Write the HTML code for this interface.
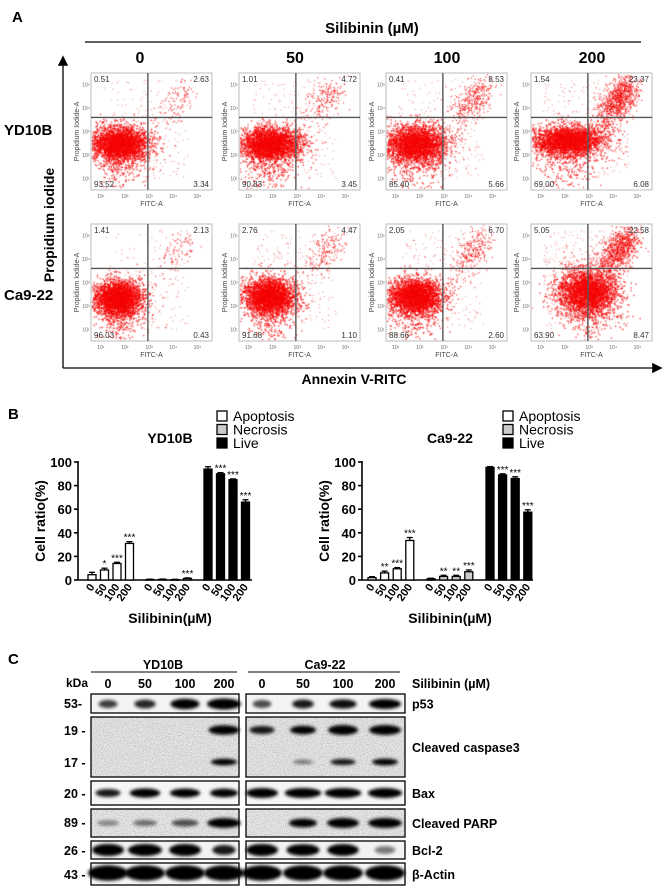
<!DOCTYPE html>
<html><head><meta charset="utf-8">
<style>
html,body{margin:0;padding:0;background:#fff;}
#root{position:relative;width:667px;height:892px;overflow:hidden;font-family:"Liberation Sans",sans-serif;}
canvas,svg{position:absolute;left:0;top:0;}
</style></head>
<body>
<div id="root">
<canvas id="dots" width="667" height="892"></canvas>
<svg id="fig" width="667" height="892" viewBox="0 0 667 892">
<defs>
<filter id="blur" x="-30%" y="-80%" width="160%" height="260%"><feGaussianBlur stdDeviation="1.5"/></filter>
<filter id="noise" x="0" y="0" width="100%" height="100%">
<feTurbulence type="fractalNoise" baseFrequency="0.9" numOctaves="1" seed="3" result="n"/>
<feColorMatrix type="matrix" values="0 0 0 0 0  0 0 0 0 0  0 0 0 0 0  0 0 0 -2.2 1.25"/>
</filter>
<marker id="arr" markerWidth="8" markerHeight="8" refX="6" refY="4" orient="auto"><path d="M0,0 L8,4 L0,8 z" fill="#000"/></marker>
</defs>
<g id="panelA">
<text x="12" y="22" font-size="15" font-weight="bold">A</text>
<text x="372" y="33" font-size="15" font-weight="bold" text-anchor="middle">Silibinin (µM)</text>
<line x1="85" y1="42" x2="641" y2="42" stroke="#000" stroke-width="1.2"/>
<text x="140" y="63" font-size="16" font-weight="bold" text-anchor="middle">0</text>
<text x="295" y="63" font-size="16" font-weight="bold" text-anchor="middle">50</text>
<text x="447" y="63" font-size="16" font-weight="bold" text-anchor="middle">100</text>
<text x="592" y="63" font-size="16" font-weight="bold" text-anchor="middle">200</text>
<text x="4" y="135" font-size="15" font-weight="bold">YD10B</text>
<text x="4" y="300" font-size="15" font-weight="bold">Ca9-22</text>
<line x1="63" y1="368" x2="63" y2="58" stroke="#000" stroke-width="1.3" marker-end="url(#arr)"/>
<line x1="63" y1="368" x2="660" y2="368" stroke="#000" stroke-width="1.3" marker-end="url(#arr)"/>
<text transform="translate(54,225) rotate(-90)" font-size="14" font-weight="bold" text-anchor="middle">Propidium iodide</text>
<text x="354" y="384" font-size="14" font-weight="bold" text-anchor="middle">Annexin V-RITC</text>
<g id="flowFrames"></g>
</g>
<g id="panelB">
<text x="8" y="419" font-size="15" font-weight="bold">B</text>
</g>
<g id="panelC">
<text x="8" y="664" font-size="15" font-weight="bold">C</text>
</g>
</svg>
</div>
<script>
// ---------- Panel A flow data ----------
const flowRows = ["YD10B","Ca9-22"];
const flowDoses = ["0","50","100","200"];
const quadYD10B = [[0.51,2.63,93.52,3.34],[1.01,4.72,90.83,3.45],[0.41,8.53,85.40,5.66],[1.54,23.37,69.00,6.08]];
const quadCa922 = [[1.41,2.13,96.03,0.43],[2.76,4.47,91.68,1.10],[2.05,6.70,88.66,2.60],[5.05,22.58,63.90,8.47]];

// ---------- Panel B bar data ----------
const barDoses = ["0","50","100","200"];
const ydApoptosis = [4.5, 8.5, 14, 31];
const ydApoptosisErr = [2, 1.5, 1, 1.5];
const ydNecrosis = [0.4, 0.5, 0.3, 1.3];
const ydNecrosisErr = [0.3, 0.3, 0.3, 0.5];
const ydLive = [94, 90, 85, 66];
const ydLiveErr = [2, 1, 0.7, 2];
const ydStars = [["","*","***","***"],["","","","***"],["","***","***","***"]];
const caApoptosis = [2, 6, 9.5, 33.5];
const caApoptosisErr = [0.8, 1.5, 1, 2.5];
const caNecrosis = [1, 3, 3, 7];
const caNecrosisErr = [0.5, 1, 1, 1.5];
const caLive = [95.5, 89, 86, 57.5];
const caLiveErr = [0.6, 1, 1.5, 2];
const caStars = [["","**","***","***"],["","**","**","***"],["","***","***","***"]];
const yTicks = [0,20,40,60,80,100];

const NS = "http://www.w3.org/2000/svg";
function mk(tag, attrs, parent, txt){
  const e = document.createElementNS(NS, tag);
  for (const k in attrs) e.setAttribute(k, attrs[k]);
  if (txt !== undefined) e.textContent = txt;
  parent.appendChild(e);
  return e;
}

// ---------- Panel A drawing ----------
const ctx = document.getElementById('dots').getContext('2d');
let seed = 12345;
function rnd(){ seed = (seed * 1664525 + 1013904223) % 4294967296; return seed / 4294967296; }
function gauss(){ let u = rnd() || 1e-6, v = rnd(); return Math.sqrt(-2*Math.log(u))*Math.cos(2*Math.PI*v); }
const colX = [91, 239, 386, 531];
const rowY = [73, 224];
const PW = 121, PH = 117;
const frames = document.getElementById('flowFrames');
const clusterParams = [
 [[0.24,0.60,0.12,0.07],[0.26,0.60,0.13,0.07],[0.24,0.60,0.13,0.08],[0.30,0.57,0.15,0.065]],
 [[0.22,0.63,0.10,0.075],[0.25,0.61,0.11,0.075],[0.24,0.61,0.11,0.075],[0.46,0.57,0.12,0.10]]
];
for (let r=0;r<2;r++){
  const quads = r===0 ? quadYD10B : quadCa922;
  for (let c=0;c<4;c++){
    const x0 = colX[c], y0 = rowY[r];
    const q = quads[c];
    const qx = x0 + PW*0.47, qy = y0 + PH*0.38;
    const g = mk('g', {}, frames);
    
    
    mk('rect', {x:x0, y:y0, width:PW, height:PH, fill:'none', stroke:'#bbb', 'stroke-width':1}, g);
    ctx.save();
    ctx.beginPath(); ctx.rect(x0+1,y0+1,PW-2,PH-2); ctx.clip();
    const p = clusterParams[r][c];
    const nMain = 3200;
    ctx.fillStyle = 'rgba(245,0,0,0.7)';
    for (let i=0;i<nMain;i++){
      let dx = gauss()*p[2], dy = gauss()*p[3];
      if (rnd()<0.1) dy = Math.abs(gauss())*0.18 + 0.05;
      const x = x0 + PW*(p[0]+dx), y = y0 + PH*(p[1]+dy);
      ctx.fillRect(x, y, 1.4, 1.4);
    }
    const nUR = Math.round(q[1]*40);
    for (let i=0;i<nUR;i++){
      const t = rnd();
      const cx = 0.55 + 0.25*Math.sqrt(t), cy = 0.45 - 0.33*Math.sqrt(t);
      const x = x0 + PW*(cx + gauss()*0.06), y = y0 + PH*(cy + gauss()*0.07);
      ctx.fillRect(x, y, 1.2, 1.2);
    }
    ctx.fillStyle = 'rgba(220,0,0,0.5)';
    const nSpr = 160 + Math.round((q[0]+q[3])*15);
    for (let i=0;i<nSpr;i++){
      const x = x0 + PW*(0.1+rnd()*0.7), y = y0 + PH*(0.05+rnd()*0.85);
      ctx.fillRect(x, y, 1, 1);
    }
    ctx.restore();
    mk('line', {x1:qx, y1:y0, x2:qx, y2:y0+PH, stroke:'#555', 'stroke-width':1.4}, g);
    mk('line', {x1:x0, y1:qy, x2:x0+PW, y2:qy, stroke:'#555', 'stroke-width':1.4}, g);
    const t1 = mk('text', {x:x0+3, y:y0+9, 'font-size':8, fill:'#333'}, g, q[0].toFixed(2));
     
    const t2 = mk('text', {x:x0+PW-3, y:y0+9, 'font-size':8, fill:'#333', 'text-anchor':'end'}, g, q[1].toFixed(2));
     
    const t3 = mk('text', {x:x0+3, y:y0+PH-3, 'font-size':8, fill:'#333'}, g, q[2].toFixed(2));
     
    const t4 = mk('text', {x:x0+PW-3, y:y0+PH-3, 'font-size':8, fill:'#333', 'text-anchor':'end'}, g, q[3].toFixed(2));
     
    for (let k=1;k<=5;k++){
      mk('text', {x:x0 + PW*(k-0.6)/5, y:y0+PH+8, 'font-size':5, fill:'#666', 'text-anchor':'middle'}, g, '10'+['¹','²','³','⁴','⁵'][k-1]);
      mk('text', {x:x0-5, y:y0 + PH*(1-(k-0.5)/5)+2, 'font-size':5, fill:'#666', 'text-anchor':'middle'}, g, '10'+['¹','²','³','⁴','⁵'][k-1]);
    }
    const fx = mk('text', {x:x0+PW/2, y:y0+PH+16, 'font-size':7, fill:'#444', 'text-anchor':'middle'}, g, 'FITC-A');
     
    const fy = mk('text', {transform:'translate('+(x0-12)+','+(y0+PH/2)+') rotate(-90)', 'font-size':7, fill:'#444', 'text-anchor':'middle'}, g, 'Propidium Iodide-A');
     
  }
}

// ---------- Panel B drawing ----------
const pB = document.getElementById('panelB');
function barChart(opt){
  const g = mk('g', {}, pB);
  
  
  const ax = opt.axisX, y0 = 580, y100 = 462;
  const ys = v => y0 - (v/100)*(y0-y100);
  const t = mk('text', {x:opt.titleX, y:443, 'font-size':14, 'font-weight':'bold', 'text-anchor':'middle'}, g, opt.title);
   
  const legNames = ['Apoptosis','Necrosis','Live'], legFill = ['#fff','#ccc','#000'];
  for (let i=0;i<3;i++){
    const lg = mk('g', {}, g);
    
    
    mk('rect', {x:opt.legX, y:411+i*13.5, width:10, height:10, fill:legFill[i], stroke:'#000', 'stroke-width':1.3}, lg);
    mk('text', {x:opt.legX+16, y:421+i*13.5, 'font-size':14}, lg, legNames[i]);
  }
  mk('line', {x1:ax, y1:y100-1, x2:ax, y2:y0, stroke:'#000', 'stroke-width':1.6}, g);
  mk('line', {x1:ax, y1:y0, x2:opt.axisEnd, y2:y0, stroke:'#000', 'stroke-width':1.6}, g);
  yTicks.forEach(v => {
    mk('line', {x1:ax-4, y1:ys(v), x2:ax, y2:ys(v), stroke:'#000', 'stroke-width':1.6}, g);
    const tl = mk('text', {x:ax-6, y:ys(v)+5, 'font-size':13, 'font-weight':'bold', 'text-anchor':'end'}, g, String(v));
     
  });
  const yt = mk('text', {transform:'translate('+(ax-33)+',521) rotate(-90)', 'font-size':14, 'font-weight':'bold', 'text-anchor':'middle'}, g, 'Cell ratio(%)');
   
  const xt = mk('text', {x:opt.titleX, y:623, 'font-size':14, 'font-weight':'bold', 'text-anchor':'middle'}, g, 'Silibinin(µM)');
   
  const series = [[opt.apo, opt.apoErr,'#fff'],[opt.nec, opt.necErr,'#ccc'],[opt.live, opt.liveErr,'#000']];
  const grpNames = ['apoptosis','necrosis','live'];
  series.forEach((s, gi) => {
    s[0].forEach((v, i) => {
      const cx = opt.start + gi*opt.groupStep + i*opt.barStep;
      const bw = 8;
      const r = mk('rect', {x:cx-bw/2, y:ys(v), width:bw, height:Math.max(0.5, y0-ys(v)), fill:s[2], stroke:'#000', 'stroke-width':1.3}, g);
      
      
      const et = ys(v + s[1][i]);
      mk('line', {x1:cx, y1:ys(v), x2:cx, y2:et, stroke:'#000', 'stroke-width':1.3}, g);
      mk('line', {x1:cx-3, y1:et, x2:cx+3, y2:et, stroke:'#000', 'stroke-width':1.3}, g);
      const st = opt.stars[gi][i];
      if (st){
        const sx = mk('text', {x:cx, y:et-1, 'font-size':10, 'text-anchor':'middle'}, g, st);
         
      }
      const tl = mk('text', {transform:'translate('+(cx+3)+',587) rotate(-55)', 'font-size':11, 'font-weight':'bold', 'text-anchor':'end'}, g, barDoses[i]);
       
    });
  });
}
barChart({name:'chart-yd10b', title:'YD10B', titleX:170, legX:217, axisX:78, axisEnd:252, start:92, barStep:12.5, groupStep:58,
  apo:ydApoptosis, apoErr:ydApoptosisErr, nec:ydNecrosis, necErr:ydNecrosisErr, live:ydLive, liveErr:ydLiveErr, stars:ydStars});
barChart({name:'chart-ca9-22', title:'Ca9-22', titleX:450, legX:503, axisX:362, axisEnd:533, start:372, barStep:12.6, groupStep:59,
  apo:caApoptosis, apoErr:caApoptosisErr, nec:caNecrosis, necErr:caNecrosisErr, live:caLive, liveErr:caLiveErr, stars:caStars});

// ---------- Panel C western blot ----------
const pC = document.getElementById('panelC');
const lanesY = [108,145,185,224], lanesC = [262,303,343,385];
const blotRows = [
 {name:'p53', label:'p53', y1:694, y2:713, mw:['53-'], mwY:[708], bg:'#f4f4f4', bands:[{y:704, h:10, Y:[0.45,0.55,0.9,1.0], W:[22,24,30,34], C:[0.4,0.6,0.65,0.8]}]},
 {name:'cleaved-caspase3', label:'Cleaved caspase3', y1:717, y2:777, mw:['19 -','17 -'], mwY:[735,767], bg:'#e6e6e6', noise:true,
   bands:[{y:730, h:9, Y:[0,0,0,0.9], W:[28,28,30,32], C:[0.6,0.7,1,1]},{y:762, h:7, Y:[0,0,0,0.75], W:[26,26,28,28], C:[0,0.15,0.6,0.7]}]},
 {name:'bax', label:'Bax', y1:781, y2:805, mw:['20 -'], mwY:[798], bg:'#f6f6f6', bands:[{y:793, h:9, Y:[0.6,0.85,0.8,0.75], W:[28,32,32,30], C:[1,1,1,1]}]},
 {name:'cleaved-parp', label:'Cleaved PARP', y1:809, y2:837, mw:['89 -'], mwY:[827], bg:'#e8e8e8', noise:true, bands:[{y:823, h:9, Y:[0.1,0.2,0.35,0.95], W:[28,30,32,34], C:[0,0.75,1,1]}]},
 {name:'bcl-2', label:'Bcl-2', y1:841, y2:859, mw:['26 -'], mwY:[855], bg:'#f2f2f2', bands:[{y:850, h:11, Y:[1,1,1,0.6], W:[32,34,32,26], C:[1,0.9,0.95,0.2]}]},
 {name:'beta-actin', label:'β-Actin', y1:863, y2:885, mw:['43 -'], mwY:[879], bg:'#f6f6f6', bands:[{y:873, h:14, Y:[1,1,1,1], W:[40,40,40,40], C:[1,1,1,1]}]}
];
const hdr = [
 ['YD10B',163,91,237],['Ca9-22',325,248,400]
];
hdr.forEach(h => {
  const t = mk('text', {x:h[1], y:669, 'font-size':12.5, 'font-weight':'bold', 'text-anchor':'middle'}, pC, h[0]);
  
  
  mk('line', {x1:h[2], y1:672, x2:h[3], y2:672, stroke:'#000', 'stroke-width':1}, pC);
});
const kda = mk('text', {x:66, y:687, 'font-size':12, 'font-weight':'bold'}, pC, 'kDa');
 
const doseLbl = ['0','50','100','200'];
lanesY.concat(lanesC).forEach((x,i) => {
  const t = mk('text', {x:x, y:688, 'font-size':12.5, 'font-weight':'bold', 'text-anchor':'middle'}, pC, doseLbl[i%4]);
   
});
const sl = mk('text', {x:412, y:688, 'font-size':12.5, 'font-weight':'bold'}, pC, 'Silibinin (µM)');
 

blotRows.forEach(row => {
  const g = mk('g', {}, pC);
  
  
  [[91,239,lanesY,'Y'],[246,405,lanesC,'C']].forEach(pn => {
    mk('rect', {x:pn[0], y:row.y1, width:pn[1]-pn[0], height:row.y2-row.y1, fill:row.bg}, g);
    if (row.noise) mk('rect', {x:pn[0], y:row.y1, width:pn[1]-pn[0], height:row.y2-row.y1, fill:'#000', filter:'url(#noise)', opacity:0.25}, g);
    row.bands.forEach(b => {
      b[pn[3]].forEach((v, i) => {
        if (v <= 0.02) return;
        const w = b.W[i] * (pn[3]==='C' && row.name==='bax' ? 1.15 : 1) * (0.75 + 0.25*v);
        const h = b.h * (0.6 + 0.5*v);
        const e = mk('ellipse', {cx:pn[2][i], cy:b.y, rx:w/2, ry:h/2, fill:'#000', opacity:Math.min(1, 0.3 + 1.0*v), filter:'url(#blur)'}, g);
        
        
      });
    });
    mk('rect', {x:pn[0], y:row.y1, width:pn[1]-pn[0], height:row.y2-row.y1, fill:'none', stroke:'#000', 'stroke-width':1.3}, g);
  });
  row.mw.forEach((m, k) => {
    mk('text', {x:64, y:row.mwY[k], 'font-size':12.5, 'font-weight':'bold'}, g, m);
  });
  const lbY = (row.y1 + row.y2)/2 + 5;
  const lb = mk('text', {x:412, y:lbY, 'font-size':12.5, 'font-weight':'bold'}, g, row.label);
  
  
});
</script>
</body></html>
